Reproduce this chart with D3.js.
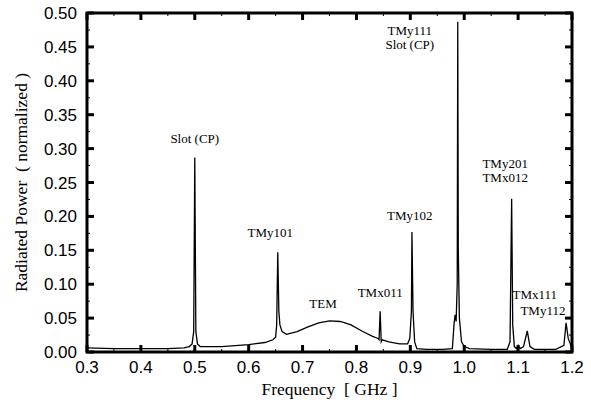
<!DOCTYPE html>
<html>
<head>
<meta charset="utf-8">
<script src="https://cdn.jsdelivr.net/npm/d3@7"></script>
<style>
  body { margin: 0; background: #fff; }
  .tick-label { font-family: "Liberation Sans", Arial, sans-serif; font-size: 17px; }
  .title { font-family: "Liberation Serif", "Times New Roman", serif; font-size: 17.5px; white-space: pre; }
  .note { font-family: "Liberation Serif", "Times New Roman", serif; font-size: 13px; }
</style>
</head>
<body>
<div id="chart"></div>
<script>
// frequency (GHz) and normalized radiated power
const freq = [0.300, 0.350, 0.400, 0.450, 0.480, 0.490, 0.495, 0.498, 0.500, 0.502, 0.505, 0.510,
  0.550, 0.600, 0.630, 0.645, 0.650, 0.652, 0.654, 0.656, 0.658, 0.662, 0.670, 0.690, 0.710,
  0.730, 0.750, 0.770, 0.790, 0.810, 0.830, 0.840, 0.842, 0.844, 0.846, 0.848, 0.860, 0.880,
  0.895, 0.899, 0.902, 0.903, 0.905, 0.908, 0.912, 0.930, 0.960, 0.978, 0.981, 0.983, 0.985,
  0.987, 0.988, 0.989, 0.991, 0.995, 1.000, 1.010, 1.050, 1.080, 1.085, 1.088, 1.090, 1.093,
  1.097, 1.100, 1.104, 1.110, 1.117, 1.122, 1.130, 1.170, 1.185, 1.189, 1.193, 1.200];
const power = [0.006, 0.005, 0.005, 0.005, 0.006, 0.008, 0.012, 0.030, 0.287, 0.030, 0.012, 0.008,
  0.008, 0.011, 0.014, 0.018, 0.022, 0.040, 0.147, 0.060, 0.040, 0.030, 0.026, 0.030, 0.037,
  0.043, 0.046, 0.045, 0.040, 0.031, 0.023, 0.020, 0.018, 0.060, 0.015, 0.018, 0.015, 0.012,
  0.012, 0.020, 0.060, 0.177, 0.060, 0.015, 0.005, 0.004, 0.004, 0.005, 0.040, 0.055, 0.045,
  0.100, 0.487, 0.150, 0.050, 0.015, 0.008, 0.005, 0.004, 0.004, 0.015, 0.226, 0.040, 0.008,
  0.005, 0.010, 0.005, 0.008, 0.031, 0.008, 0.004, 0.004, 0.010, 0.043, 0.020, 0.005];

const xTicks = [0.3, 0.4, 0.5, 0.6, 0.7, 0.8, 0.9, 1.0, 1.1, 1.2];
const yTicks = [0, 0.05, 0.1, 0.15, 0.2, 0.25, 0.3, 0.35, 0.4, 0.45, 0.5];

// mode labels: [frequency, power at text baseline, text lines]
const notes = [
  [0.500, 0.308, ["Slot (CP)"]],
  [0.640, 0.170, ["TMy101"]],
  [0.738, 0.065, ["TEM"]],
  [0.844, 0.081, ["TMx011"]],
  [0.899, 0.195, ["TMy102"]],
  [0.899, 0.468, ["TMy111", "Slot (CP)"]],
  [1.076, 0.271, ["TMy201", "TMx012"]],
  [1.131, 0.078, ["TMx111"]],
  [1.146, 0.055, ["TMy112"]]
];

const margin = {top: 13, right: 19, bottom: 52, left: 87},
    width = 591 - margin.left - margin.right,
    height = 404 - margin.top - margin.bottom;

const svg = d3.select("#chart")
  .append("svg")
    .attr("width", 591)
    .attr("height", 404)
  .append("g")
    .attr("transform", "translate(" + margin.left + "," + margin.top + ")");

const x = d3.scaleLinear().domain([0.3, 1.2]).range([0, width]);
const y = d3.scaleLinear().domain([0, 0.5]).range([height, 0]);

// inward ticks on all four sides
const xMinor = d3.range(0, 9).map(i => 0.35 + i * 0.1);
const yMinor = d3.range(0, 10).map(i => 0.025 + i * 0.05);

function ticks(g, vals, len, w) {
  vals.forEach(v => {
    g.append("line").attr("x1", x(v)).attr("x2", x(v)).attr("y1", height).attr("y2", height - len)
      .attr("stroke", "#000").attr("stroke-width", w);
    g.append("line").attr("x1", x(v)).attr("x2", x(v)).attr("y1", 0).attr("y2", len)
      .attr("stroke", "#000").attr("stroke-width", w);
  });
}
function yticks(g, vals, len, w) {
  vals.forEach(v => {
    g.append("line").attr("x1", 0).attr("x2", len).attr("y1", y(v)).attr("y2", y(v))
      .attr("stroke", "#000").attr("stroke-width", w);
    g.append("line").attr("x1", width).attr("x2", width - len).attr("y1", y(v)).attr("y2", y(v))
      .attr("stroke", "#000").attr("stroke-width", w);
  });
}

const tg = svg.append("g");
ticks(tg, xTicks, 7, 3);
ticks(tg, xMinor, 3, 1);
yticks(tg, yTicks, 7, 3);
yticks(tg, yMinor, 3, 1);

// the curve
const line = d3.line()
  .x((d, i) => x(freq[i]))
  .y(d => y(d));

svg.append("path")
  .datum(power)
  .attr("fill", "none")
  .attr("stroke", "#000")
  .attr("stroke-width", 1.3)
  .attr("d", line);

// frame
svg.append("rect")
  .attr("width", width).attr("height", height)
  .attr("fill", "none").attr("stroke", "#000").attr("stroke-width", 3);

// tick labels
svg.selectAll(".xl").data(xTicks).enter().append("text")
  .attr("class", "tick-label")
  .attr("x", d => x(d)).attr("y", height + 21)
  .attr("text-anchor", "middle")
  .text(d => d.toFixed(1));

svg.selectAll(".yl").data(yTicks).enter().append("text")
  .attr("class", "tick-label")
  .attr("x", -10).attr("y", d => y(d) + 6)
  .attr("text-anchor", "end")
  .text(d => d.toFixed(2));

// axis titles
svg.append("text").attr("class", "title")
  .attr("x", width / 2).attr("y", height + 43)
  .attr("text-anchor", "middle")
  .text("Frequency  [ GHz ]");

svg.append("text").attr("class", "title")
  .attr("transform", "translate(-60," + (height / 2) + ")rotate(-90)")
  .attr("text-anchor", "middle")
  .text("Radiated Power  ( normalized )");

// mode annotations
notes.forEach(n => {
  const t = svg.append("text").attr("class", "note")
    .attr("text-anchor", "middle")
    .attr("x", x(n[0])).attr("y", y(n[1]));
  n[2].forEach((s, i) => {
    t.append("tspan").attr("x", x(n[0])).attr("dy", i === 0 ? 0 : 14).text(s);
  });
});
</script>
</body>
</html>
